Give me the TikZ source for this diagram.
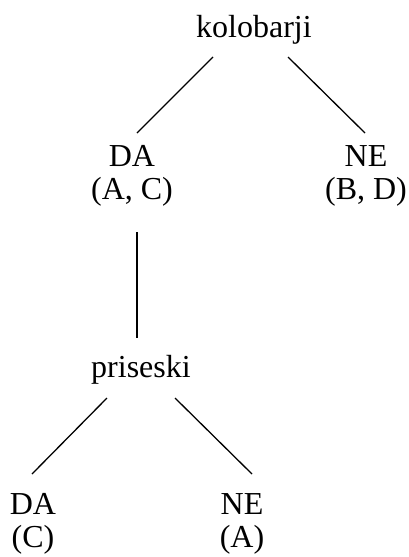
\documentclass[tikz,border=0pt]{standalone}
\usepackage{fontspec}
\setmainfont{Liberation Serif}
\usetikzlibrary{positioning}

\begin{document}
\begin{tikzpicture}[x=1pt, y=-1pt,
    leaf/.style={inner sep=0pt, align=center, anchor=base, font=\fontsize{32}{33}\selectfont},
    branch/.style={line width=1.3pt}]
\useasboundingbox (0,0) rectangle (409,557);

% base anchor of a two-line node sits on its lower line
\node (kolo) at (254,37) [leaf] {kolobarji};
\node (da_one) at (132,199) [leaf] {DA\\(A, C)};
\node (ne_one) at (366,199) [leaf] {NE\\(B, D)};
\node (pris) at (141,377) [leaf] {priseski};
\node (da_two) at (33,547) [leaf] {DA\\(C)};
\node (ne_two) at (242,547) [leaf] {NE\\(A)};

\draw [branch] ([shift={(-41,20)}]kolo.base) -- ([shift={(5,-66)}]da_one.base);
\draw [branch] ([shift={(34,20)}]kolo.base) -- ([shift={(-1,-66)}]ne_one.base);
\draw [branch] ([shift={(5,33)}]da_one.base) -- ([shift={(-4,-39)}]pris.base);
\draw [branch] ([shift={(-34,21)}]pris.base) -- ([shift={(-1,-73)}]da_two.base);
\draw [branch] ([shift={(34,21)}]pris.base) -- ([shift={(10,-73)}]ne_two.base);

\end{tikzpicture}
\end{document}
